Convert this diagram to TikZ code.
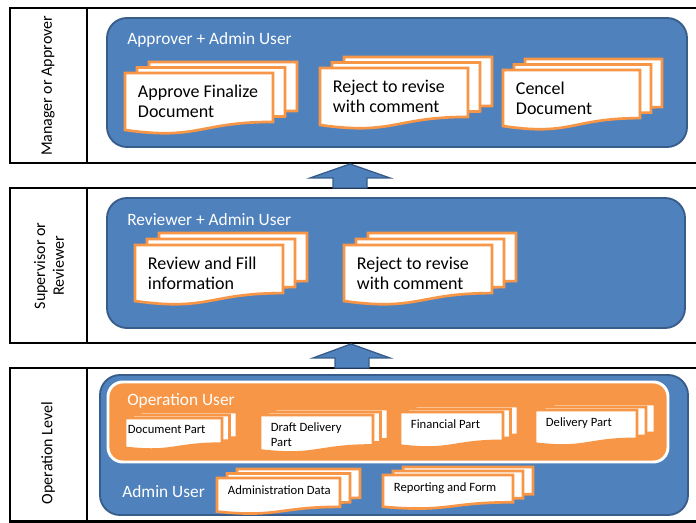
\documentclass[tikz,border=0pt]{standalone}
\usepackage{fontspec}
\setmainfont{Carlito}
\usetikzlibrary{positioning}
\definecolor{boxblue}{HTML}{4F81BD}
\definecolor{boxline}{HTML}{385D8A}
\definecolor{opsorange}{HTML}{F79646}
\tikzset{
lane/.style={draw=black, line width=2.2pt}, % frame of each level
levelname/.style={rotate=90, align=center, font=\fontsize{12}{14}\selectfont}, % level name on the left
userbox/.style={draw=boxline, fill=boxblue, line width=1.4pt, rounded corners=15pt}, % blue user area
opsbox/.style={draw=white, fill=opsorange, line width=2.2pt, rounded corners=11pt}, % orange operation user area
usertext/.style={text=white, anchor=west, inner sep=0pt, font=\fontsize{13}{15}\selectfont}, % title of a user area
page/.style={draw=opsorange, fill=white, line width=2pt}, % one sheet of a document stack
bigtext/.style={align=left, inner xsep=9.5pt, inner ysep=8.6pt, font=\fontsize{13.5}{15}\selectfont},
smalltext/.style={align=left, inner xsep=8pt, inner ysep=5.5pt, font=\fontsize{9.5}{11}\selectfont},
upblock/.style={draw=boxline, fill=boxblue, line width=1pt}, % block arrow between levels
}
% one sheet with a wavy bottom: x, y, width, height
\newcommand{\docpage}[4]{%
  \filldraw[page] (#1,#2) -- ++(#3,0) -- ++(0,0.802*#4)
    .. controls +(-0.5*#3,0) and +(0.5*#3,0.1735*#4) .. ++(-#3,0.132*#4) -- cycle;}
% stack of three sheets: [style] name, x, y, width, height, dx, dy, text
\newcommand{\docstack}[9][bigtext]{%
  \docpage{#3+2*#7}{#4-2*#8}{#5}{#6}
  \docpage{#3+#7}{#4-#8}{#5}{#6}
  \docpage{#3}{#4}{#5}{#6}
  \node[#1, anchor=north west] at (#3,#4) (#2) {#9};}

\begin{document}
\begin{tikzpicture}[x=0.75pt, y=-0.75pt]
\useasboundingbox (0,0) rectangle (696,523);
\clip (0,0) rectangle (696,523);

% levels
\draw[lane] (10,8) rectangle (710,163);
\draw[lane] (87,8) -- (87,163);
\draw[lane] (10,188) rectangle (710,343);
\draw[lane] (87,188) -- (87,343);
\draw[lane] (10,368) rectangle (710,521.5);
\draw[lane] (87,368) -- (87,521.5);

\node[levelname] at (48,86) (manager) {Manager or Approver};
\node[levelname] at (49,266) (supervisor) {Supervisor or\\Reviewer};
\node[levelname] at (48,453) (operation) {Operation Level};

% approver level
\draw[userbox] (107,18) rectangle (687,147);
\node[usertext] at (127,40) (approver) {Approver + Admin User};
\docstack{approve}{125}{73}{148}{61}{12}{5.5}{Approve Finalize\\Document}
\docstack{reject1}{320}{68}{148}{61}{12}{5.5}{Reject to revise\\with comment}
\docstack{cancel}{503}{70}{137}{60}{11}{5.5}{Cencel\\Document}

% reviewer level
\draw[userbox] (107,198) rectangle (685,328);
\node[usertext] at (127,220) (reviewer) {Reviewer + Admin User};
\docstack{review}{135}{245}{148}{60}{12}{6}{Review and Fill\\information}
\docstack{reject2}{344}{245}{148}{60}{12}{6}{Reject to revise\\with comment}

% operation level
\draw[userbox] (100,375) rectangle (688,515);
\draw[opsbox] (108,382) rectangle (668,462);
\node[usertext] at (127,401) (opuser) {Operation User};
\docstack[smalltext, inner xsep=2pt]{docpart}{125}{418}{97}{32}{7.5}{3}{Document Part}
\docstack[smalltext]{draft}{260}{415}{113}{38}{7.5}{3}{Draft Delivery\\Part}
\docstack[smalltext]{financial}{400}{412}{103}{36}{7.5}{3}{Financial Part}
\docstack[smalltext]{delivery}{535}{410}{102}{36}{9}{3}{Delivery Part}
\node[usertext] at (122,492) (admin) {Admin User};
\docstack[smalltext]{admindata}{217}{478}{123}{36}{10}{4.5}{Administration Data}
\docstack[smalltext]{reporting}{383}{475}{130}{34}{10}{4}{Reporting and Form}

% arrows between levels
\draw[upblock] (350,164) -- (390,178) -- (367,178) -- (367,188) -- (333,188) -- (333,178) -- (310,178) -- cycle;
\draw[upblock] (351,344) -- (390,358) -- (369,358) -- (369,368) -- (335,368) -- (335,358) -- (313,358) -- cycle;
\end{tikzpicture}
\end{document}
